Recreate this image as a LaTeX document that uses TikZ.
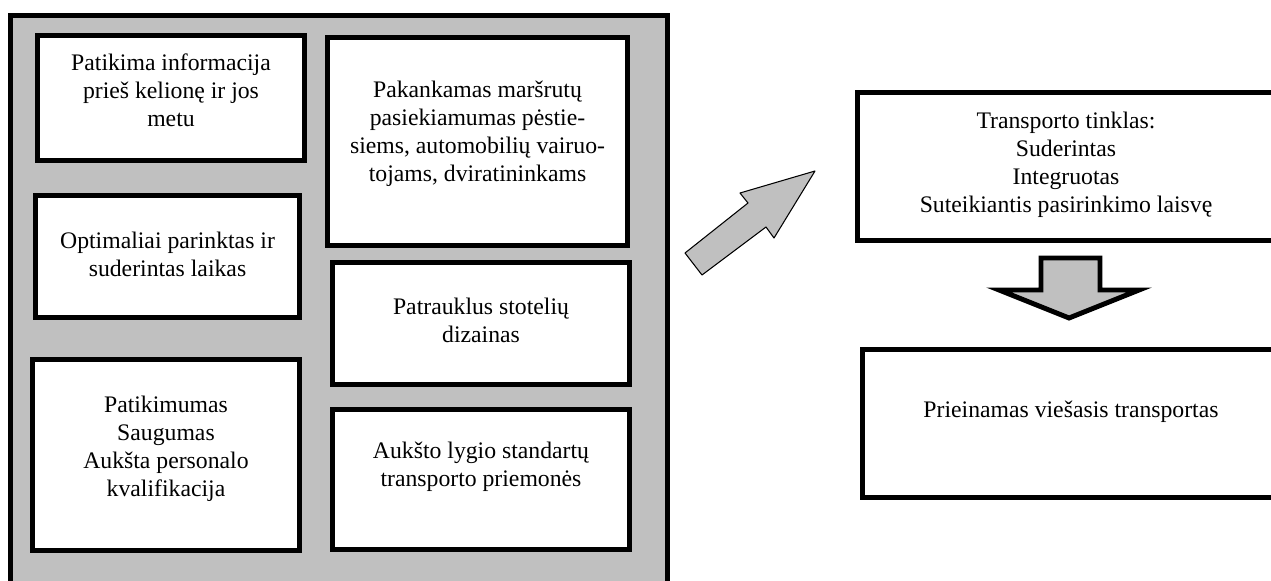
\documentclass[tikz,border=0pt]{standalone}
\usepackage{fontspec}
\setmainfont{Liberation Serif}
\usepackage{xcolor}
\usepackage{tikz}
\usetikzlibrary{calc}
\definecolor{panelgray}{HTML}{C0C0C0}
\tikzset{
  panel/.style={draw=black, fill=panelgray, line width=2.8pt},
  cell/.style={draw=black, fill=white, line width=2.8pt, inner sep=0pt},
  txt/.style={align=center, font=\fontsize{13.5}{16}\selectfont, inner sep=0pt},
  slant/.style={draw=black, fill=panelgray, line width=0.6pt, line join=round},
  down/.style={draw=black, fill=panelgray, line width=2.8pt, line join=miter, miter limit=20}
}

\begin{document}
\begin{tikzpicture}[x=0.02cm, y=-0.02cm]
  \useasboundingbox (0,0) rectangle (1271,581);
  \clip (0,0) rectangle (1271,581);

  % left panel
  \draw[panel] (10.5,15.5) rectangle (667.5,600);

  \node[cell, minimum width=5.34cm, minimum height=2.50cm] (info) at (171,98) {};
  \node[txt] (infot) at (171,90) {Patikima informacija\\prieš kelionę ir jos\\metu};

  \node[cell, minimum width=6.00cm, minimum height=4.16cm] (reach) at (477.5,141.5) {};
  \node[txt] (reacht) at (477.5,134) {Pakankamas maršrutų\\pasiekiamumas pėstie-\\siems, automobilių vairuo-\\tojams, dviratininkams};

  \node[cell, minimum width=5.28cm, minimum height=2.44cm] (time) at (167.5,256.5) {};
  \node[txt] (timet) at (167.5,254) {Optimaliai parinktas ir\\suderintas laikas};

  \node[cell, minimum width=5.94cm, minimum height=2.44cm] (stop) at (481,323.5) {};
  \node[txt] (stopt) at (481,320) {Patrauklus stotelių\\dizainas};

  \node[cell, minimum width=5.34cm, minimum height=3.82cm] (safe) at (166,455) {};
  \node[txt] (safet) at (166,449) {Patikimumas\\Saugumas\\Aukšta personalo\\kvalifikacija};

  \node[cell, minimum width=5.94cm, minimum height=2.80cm] (fleet) at (481,479.5) {};
  \node[txt] (fleett) at (481,467) {Aukšto lygio standartų\\transporto priemonės};

  % right side
  \node[cell, minimum width=8.34cm, minimum height=2.96cm] (net) at (1066,166.5) {};
  \node[txt] (nett) at (1066,165) {Transporto tinklas:\\Suderintas\\Integruotas\\Suteikiantis pasirinkimo laisvę};

  \node[cell, minimum width=8.34cm, minimum height=2.96cm] (access) at (1071,423.5) {};
  \node[txt] (accesst) at (1071,412) {Prieinamas viešasis transportas};

  % arrows
  \draw[slant] (685,253) -- (748,203) -- (740,193) -- (815,171) -- (774,238)
    -- (766,227) -- (702,275) -- cycle;
  \draw[down] (1041,258) -- (1100,258) -- (1100,290) -- (1139,290) -- (1069,318)
    -- (999,290) -- (1041,290) -- cycle;
\end{tikzpicture}
\end{document}
